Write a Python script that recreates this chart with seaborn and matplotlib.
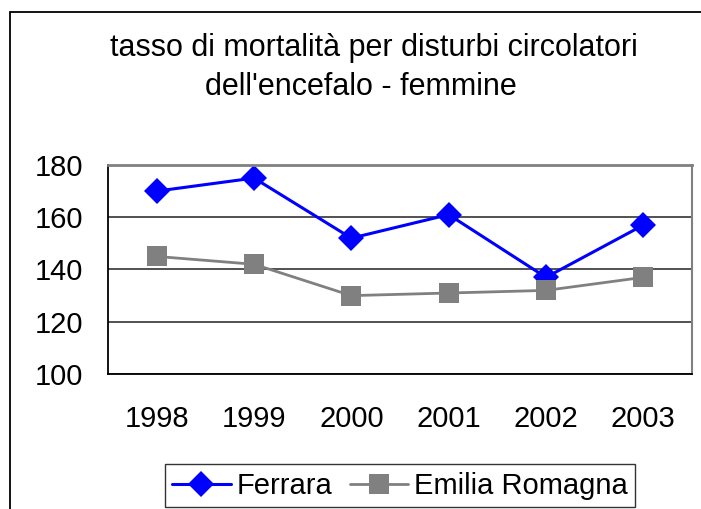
import matplotlib
matplotlib.use("Agg")
import matplotlib.pyplot as plt
from matplotlib.patches import Rectangle
import seaborn as sns
import pandas as pd

# data
years = ["1998", "1999", "2000", "2001", "2002", "2003"]
ferrara = [170, 175, 152, 161, 137, 157]
emilia = [145, 142, 130, 131, 132, 137]
y_ticks = [100, 120, 140, 160, 180]

sns.set_style("white")
plt.rcParams["font.family"] = ["Liberation Sans", "DejaVu Sans"]
plt.rcParams["text.color"] = "black"
plt.rcParams["xtick.color"] = "black"
plt.rcParams["ytick.color"] = "black"

pos = list(range(len(years)))
df = pd.DataFrame({"pos": pos, "Ferrara": ferrara, "Emilia Romagna": emilia})

fig = plt.figure(figsize=(7.01, 5.09), dpi=100)
ax = fig.add_axes([108 / 701, 1 - 374 / 509, 584 / 701, 209 / 509])

sns.lineplot(data=df, x="pos", y="Ferrara", ax=ax, color="#0000FF", lw=2.2,
             marker="D", markersize=13, markeredgewidth=0, label="Ferrara")
sns.lineplot(data=df, x="pos", y="Emilia Romagna", ax=ax, color="#808080", lw=2,
             marker="s", markersize=14, markeredgewidth=0, label="Emilia Romagna")

ax.set_xlim(-0.5, len(years) - 0.5)
ax.set_ylim(100, 180)
ax.set_xlabel("")
ax.set_ylabel("")

# category ticks between the years, labels centred on them
ax.set_xticks([p - 0.5 for p in pos] + [pos[-1] + 0.5])
ax.set_xticklabels([])
ax.set_xticks(pos, minor=True)
ax.set_xticklabels(years, minor=True, fontsize=21)
ax.tick_params(axis="x", which="major", length=6, width=1.2, direction="out")
ax.tick_params(axis="x", which="minor", length=0, pad=22)

ax.set_yticks(y_ticks)
ax.set_yticklabels([str(v) for v in y_ticks], fontsize=21)
ax.tick_params(axis="y", length=6, width=1.2, direction="out", pad=12)

ax.yaxis.grid(True, color="#333333", lw=1.2)
ax.xaxis.grid(False)
ax.set_axisbelow(True)

for side in ["left", "bottom"]:
    ax.spines[side].set_color("black")
    ax.spines[side].set_linewidth(1.3)
ax.spines["top"].set_color("#808080")
ax.spines["top"].set_linewidth(2)
ax.spines["right"].set_color("#808080")
ax.spines["right"].set_linewidth(1.5)

ax.get_legend().remove()
handles, labels = ax.get_legend_handles_labels()
leg = fig.legend(handles, labels, loc="lower center", ncol=2, fontsize=21,
                 bbox_to_anchor=(400 / 701, 1 - 507 / 509), frameon=True,
                 fancybox=False, handlelength=2.0, handletextpad=0.2,
                 columnspacing=0.6, borderpad=0.25, borderaxespad=0)
leg.get_frame().set_edgecolor("black")
leg.get_frame().set_linewidth(1)

fig.text(374 / 701, 1 - 48 / 509, "tasso di mortalità per disturbi circolatori",
         ha="center", va="center", fontsize=22)
fig.text(361 / 701, 1 - 87 / 509, "dell'encefalo - femmine",
         ha="center", va="center", fontsize=22)

# outer chart border (cut by the image on the right and bottom)
fig.add_artist(Rectangle((10 / 701, -0.1), 1.0, 1.1 - 12 / 509,
                         transform=fig.transFigure, fill=False,
                         edgecolor="black", lw=1.3))

fig.savefig("out.png", dpi=100)
